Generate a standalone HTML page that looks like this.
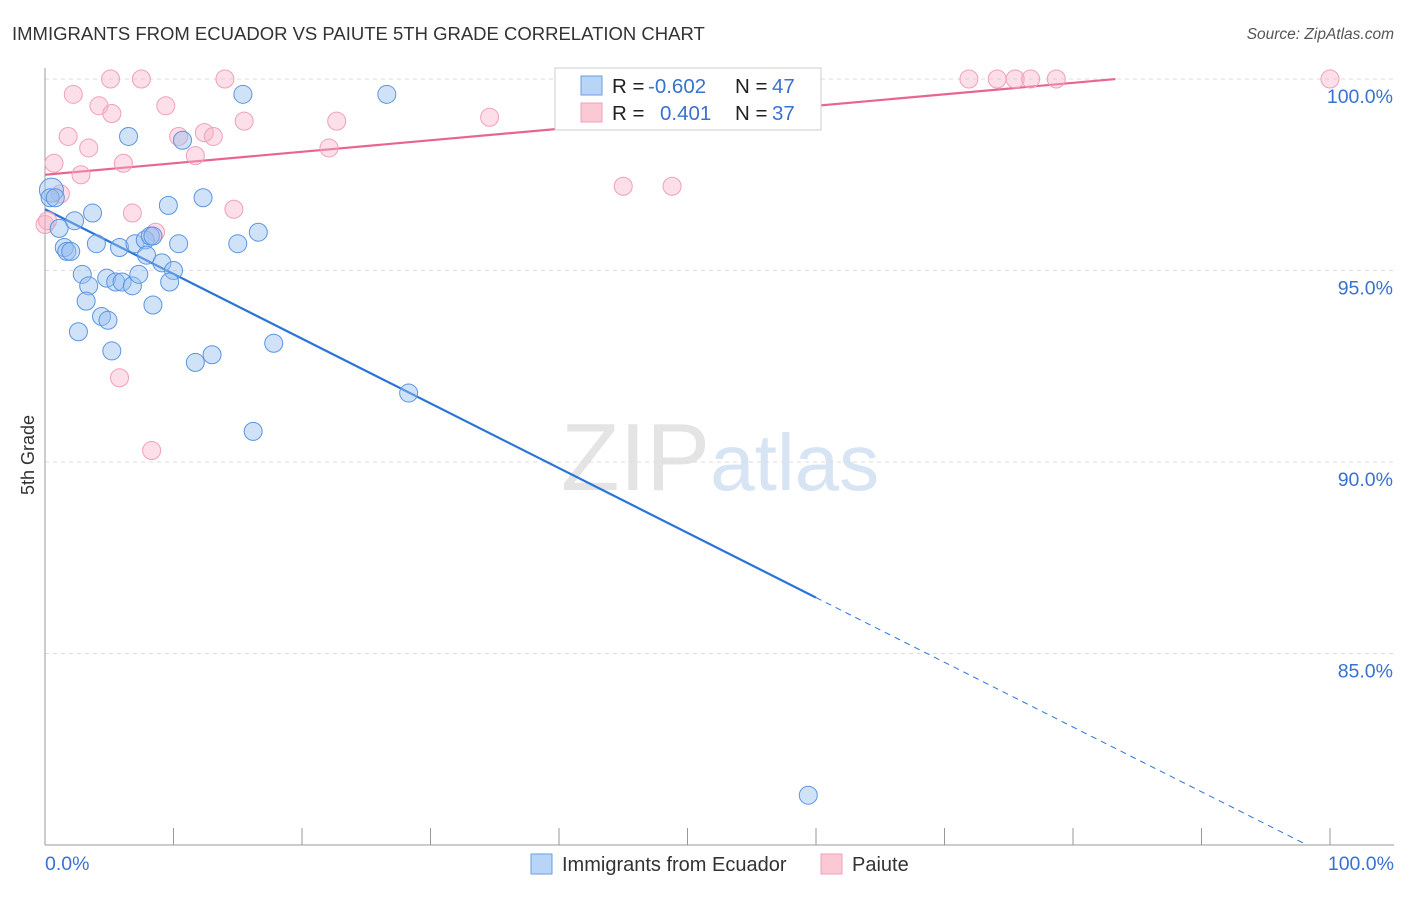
<!DOCTYPE html>
<html><head><meta charset="utf-8"><style>
body{margin:0;background:#fff;font-family:"Liberation Sans",sans-serif}
svg text{font-family:"Liberation Sans",sans-serif}
</style></head><body>
<svg width="1406" height="892" viewBox="0 0 1406 892">
<text x="12" y="40" font-size="18.5" fill="#333">IMMIGRANTS FROM ECUADOR VS PAIUTE 5TH GRADE CORRELATION CHART</text>
<text x="1394" y="39" font-size="15.5" fill="#555" text-anchor="end" font-style="italic">Source: ZipAtlas.com</text>
<text x="720" y="490" font-size="96" fill="#e4e4e4" text-anchor="middle" font-family="Liberation Serif">ZIP<tspan fill="#d6e4f4" font-family="Liberation Sans" font-size="80">atlas</tspan></text>
<g id="grid"></g><g id="axes"></g><g id="lines"></g><g id="pts"></g>
<text transform="translate(34,455) rotate(-90)" font-size="18" fill="#333" text-anchor="middle">5th Grade</text>
<text x="45" y="870" font-size="19.5" fill="#3a72d0">0.0%</text>
<text x="1394" y="870" font-size="19.5" fill="#3a72d0" text-anchor="end">100.0%</text>
<g>
<rect x="555" y="68" width="266" height="62" fill="#fff" stroke="#ccc"/>
<rect x="581" y="76" width="21" height="19" fill="#b8d4f6" stroke="#6a9ee0"/>
<rect x="581" y="103" width="21" height="19" fill="#fbc8d6" stroke="#f0a0b8"/>
<text x="612" y="93" font-size="20.5" fill="#222">R = <tspan x="648" fill="#3a72d0">-0.602</tspan><tspan x="735">N = </tspan><tspan x="772" fill="#3a72d0">47</tspan></text>
<text x="612" y="120" font-size="20.5" fill="#222">R = <tspan x="660" fill="#3a72d0">0.401</tspan><tspan x="735">N = </tspan><tspan x="772" fill="#3a72d0">37</tspan></text>
</g>
<g>
<rect x="531" y="854" width="21" height="20" fill="#b8d4f6" stroke="#6a9ee0"/>
<text x="562" y="871" font-size="20" fill="#333">Immigrants from Ecuador</text>
<rect x="821" y="854" width="21" height="20" fill="#fbc8d6" stroke="#f0a0b8"/>
<text x="852" y="871" font-size="20" fill="#333">Paiute</text>
</g>
</svg>
<script>
const yTicks=[100,95,90,85];
const yTickLabels=["100.0%","95.0%","90.0%","85.0%"];
const xTicks=[0,10,20,30,40,50,60,70,80,90,100];
const ecuadorX=[0.5,0.4,0.8,1.1,2.3,3.7,1.5,1.7,2.0,4.0,5.8,7.0,7.8,8.2,8.4,9.6,10.4,12.3,6.5,10.7,15.4,26.6,16.6,15.0,2.9,3.4,4.8,5.5,6.0,6.8,7.3,7.9,9.1,10.0,9.7,8.4,3.2,4.4,4.9,2.6,5.2,11.7,13.0,17.8,28.3,16.2,59.4];
const ecuadorY=[97.1,96.9,96.9,96.1,96.3,96.5,95.6,95.5,95.5,95.7,95.6,95.7,95.8,95.9,95.9,96.7,95.7,96.9,98.5,98.4,99.6,99.6,96.0,95.7,94.9,94.6,94.8,94.7,94.7,94.6,94.9,95.4,95.2,95.0,94.7,94.1,94.2,93.8,93.7,93.4,92.9,92.6,92.8,93.1,91.8,90.8,81.3];
const paiuteX=[0.7,2.2,1.8,3.4,4.2,5.1,5.2,6.1,7.5,9.4,10.4,11.7,12.4,13.1,14.0,15.5,14.7,6.8,8.6,2.8,1.2,0.0,22.7,22.1,34.6,45.0,48.8,45.8,71.9,74.1,75.5,76.7,78.7,100,5.8,8.3,0.2];
const paiuteY=[97.8,99.6,98.5,98.2,99.3,100,99.1,97.8,100,99.3,98.5,98.0,98.6,98.5,100,98.9,96.6,96.5,96.0,97.5,97.0,96.2,98.9,98.2,99.0,97.2,97.2,100,100,100,100,100,100,100,92.2,90.3,96.3];
const trendIntercept=[96.6,97.5];
const trendSlope=[-0.169,0.030];
const trendSolidEnd=[60,83.3];
const NS="http://www.w3.org/2000/svg";
const X=v=>45+v*12.85, Y=v=>79+(100-v)*38.3;
function mk(tag,attrs,parent){const e=document.createElementNS(NS,tag);for(const k in attrs)e.setAttribute(k,attrs[k]);document.getElementById(parent).appendChild(e);return e;}
yTicks.forEach((t,i)=>{
 const l=mk('line',{x1:45,x2:1394,y1:Y(t),y2:Y(t),stroke:'#ddd','stroke-dasharray':'4,4'},'grid');
 
 
 const tx=mk('text',{x:1393,y:Y(t)+24,'font-size':19.5,fill:'#3a72d0','text-anchor':'end'},'grid');
 tx.textContent=yTickLabels[i];
 
 
});
const ax=mk('line',{x1:45,x2:45,y1:68,y2:845,stroke:'#999'},'axes');


const bx=mk('line',{x1:45,x2:1394,y1:845,y2:845,stroke:'#999'},'axes');


xTicks.forEach(t=>{
 const l=mk('line',{x1:X(t),x2:X(t),y1:828,y2:845,stroke:'#999'},'axes');
 
 
});
const colors=['#2a74d8','#e8668e'];
[0,1].forEach(i=>{
 const a=trendIntercept[i],s=trendSlope[i],e=trendSolidEnd[i];
 const l=mk('line',{x1:X(0),y1:Y(a),x2:X(e),y2:Y(a+s*e),stroke:colors[i],'stroke-width':2.2},'lines');
 
 
 if(i===0){
  const xe=(80-a)/s;
  const d=mk('line',{x1:X(e),y1:Y(a+s*e),x2:X(xe),y2:Y(80),stroke:colors[i],'stroke-width':1,'stroke-dasharray':'6,5'},'lines');
  
  
 }
});
function pts(xs,ys,fill,stroke,name){
 xs.forEach((x,i)=>{
  const c=mk('circle',{cx:X(x),cy:Y(ys[i]),r:i===0&&name==='ecuador-point'?12:9,fill:fill,stroke:stroke,'stroke-width':1},'pts');
  
  
 });
}
pts(paiuteX,paiuteY,'rgba(248,175,198,0.4)','#f0a0b8','paiute-point');
pts(ecuadorX,ecuadorY,'rgba(150,190,240,0.45)','#5b95e0','ecuador-point');
</script>
</body></html>
